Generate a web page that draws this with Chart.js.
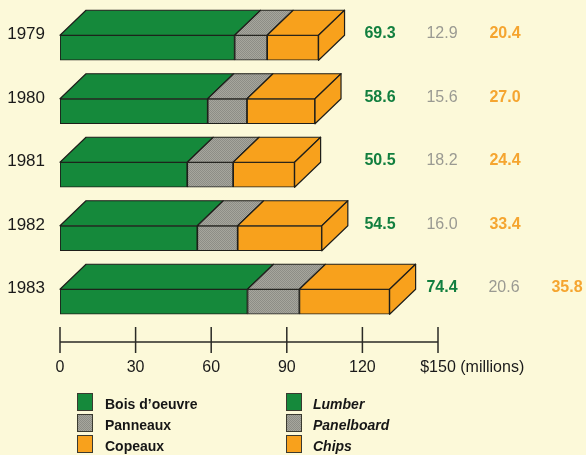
<!DOCTYPE html>
<html>
<head>
<meta charset="utf-8">
<script src="https://cdn.jsdelivr.net/npm/chart.js@4.4.1/dist/chart.umd.min.js"></script>
<style>
  html, body { margin: 0; padding: 0; background: #fcf9d9; }
  #wrap { width: 586px; height: 455px; }
</style>
</head>
<body>
<div id="wrap"><canvas id="chart" width="586" height="455"></canvas></div>
<script>
// Chart data (values in $ millions)
const years = ['1979', '1980', '1981', '1982', '1983'];
const lumber = [69.3, 58.6, 50.5, 54.5, 74.4];
const panelboard = [12.9, 15.6, 18.2, 16.0, 20.6];
const chips = [20.4, 27.0, 24.4, 33.4, 35.8];
const xTicks = [0, 30, 60, 90, 120, 150];
const namesFr = ['Bois d\u2019oeuvre', 'Panneaux', 'Copeaux'];
const namesEn = ['Lumber', 'Panelboard', 'Chips'];

const FONT = "'Liberation Sans', Arial, Helvetica, sans-serif";
const edge = '#1e1e1a';
const green = '#15893b';
const orange = '#f8a11c';

// halftone-ish grey like the print
function greyPattern() {
    const c = document.createElement('canvas');
    c.width = 2; c.height = 2;
    const g = c.getContext('2d');
    g.fillStyle = '#a6a69d'; g.fillRect(0, 0, 2, 2);
    g.fillStyle = '#8d8d86'; g.fillRect(0, 0, 1, 1); g.fillRect(1, 1, 1, 1);
    return g.createPattern(c, 'repeat');
}
const grey = greyPattern();
const fills = [green, grey, orange];
const textColors = ['#127f3f', '#9a9a92', '#f5a530'];

// depth of the 3d boxes
const dx = 26, dy = 25;

// top and side faces of the bars
const box3d = {
    id: 'box3d',
    afterDatasetsDraw(chart) {
        const ctx = chart.ctx;
        const metas = chart.getSortedVisibleDatasetMetas();
        ctx.save();
        ctx.lineWidth = 1.2;
        ctx.strokeStyle = edge;
        ctx.lineJoin = 'round';
        metas.forEach((meta, k) => {
            meta.data.forEach(bar => {
                const p = bar.getProps(['x', 'y', 'base', 'height'], true);
                const top = p.y - p.height / 2, bottom = p.y + p.height / 2;
                const x0 = Math.min(p.base, p.x), x1 = Math.max(p.base, p.x);
                ctx.fillStyle = fills[k];
                ctx.beginPath();
                ctx.moveTo(x0, top);
                ctx.lineTo(x1, top);
                ctx.lineTo(x1 + dx, top - dy);
                ctx.lineTo(x0 + dx, top - dy);
                ctx.closePath();
                ctx.fill();
                ctx.stroke();
                if (k === metas.length - 1) {
                    ctx.beginPath();
                    ctx.moveTo(x1, top);
                    ctx.lineTo(x1 + dx, top - dy);
                    ctx.lineTo(x1 + dx, bottom - dy);
                    ctx.lineTo(x1, bottom);
                    ctx.closePath();
                    ctx.fill();
                    ctx.stroke();
                }
            });
        });
        ctx.restore();
    }
};

// value columns, axis line and the bilingual legend
const extras = {
    id: 'extras',
    afterDraw(chart) {
        const ctx = chart.ctx;
        const xs = chart.scales.x;
        const ys = chart.scales.y;
        const series = [lumber, panelboard, chips];
        ctx.save();

        // value labels to the right of each bar
        const cols = [380, 442, 505];
        ctx.textAlign = 'center';
        ctx.textBaseline = 'middle';
        years.forEach((yr, i) => {
            const total = lumber[i] + panelboard[i] + chips[i];
            const end = xs.getPixelForValue(total) + dx;
            const shift = end + 12 > cols[0] - 16 ? cols[1] - cols[0] : 0;
            const y = ys.getPixelForValue(i) - 12.5 - 1.5;
            series.forEach((s, k) => {
                ctx.font = (k === 1 ? '' : 'bold ') + '16px ' + FONT;
                ctx.fillStyle = textColors[k];
                ctx.fillText(s[i].toFixed(1), cols[k] + shift, y);
            });
        });

        // x axis line with ticks crossing it
        const axisY = 342;
        ctx.strokeStyle = '#2a2a26';
        ctx.lineWidth = 1.5;
        ctx.beginPath();
        ctx.moveTo(xs.getPixelForValue(xTicks[0]), axisY);
        ctx.lineTo(xs.getPixelForValue(xTicks[xTicks.length - 1]), axisY);
        xTicks.forEach(t => {
            const px = xs.getPixelForValue(t);
            ctx.moveTo(px, axisY - 15);
            ctx.lineTo(px, axisY + 11);
        });
        ctx.stroke();

        // unit after the last tick label
        ctx.font = '16px ' + FONT;
        ctx.fillStyle = '#1a1a1a';
        ctx.textAlign = 'left';
        const last = xTicks[xTicks.length - 1];
        const lastPx = xs.getPixelForValue(last);
        const w = ctx.measureText('$' + last).width;
        ctx.fillText(' (millions)', lastPx + w / 2, 368);

        // legend, French then English
        const legendCols = [{ box: 77, text: 105, style: 'bold ', names: namesFr },
                            { box: 286, text: 313, style: 'italic bold ', names: namesEn }];
        legendCols.forEach(col => {
            col.names.forEach((name, k) => {
                const top = 393 + k * 21;
                ctx.fillStyle = fills[k];
                ctx.fillRect(col.box, top, 16, 18);
                ctx.strokeStyle = '#3a3a30';
                ctx.lineWidth = 1;
                ctx.strokeRect(col.box + 0.5, top + 0.5, 15, 17);
                ctx.font = col.style + '14px ' + FONT;
                ctx.fillStyle = '#161616';
                ctx.textBaseline = 'middle';
                ctx.fillText(name, col.text, top + 12);
            });
        });
        ctx.restore();
    }
};

function makeDataset(label, data, k) {
    return {
        label: label,
        data: data,
        backgroundColor: fills[k],
        borderColor: edge,
        borderWidth: 1.2,
        borderSkipped: false,
        barThickness: 25
    };
}

new Chart(document.getElementById('chart'), {
    type: 'bar',
    data: {
        labels: years,
        datasets: [
            makeDataset(namesEn[0], lumber, 0),
            makeDataset(namesEn[1], panelboard, 1),
            makeDataset(namesEn[2], chips, 2)
        ]
    },
    options: {
        indexAxis: 'y',
        responsive: false,
        animation: false,
        layout: { padding: { top: 16, right: 148, bottom: 0, left: 0 } },
        plugins: {
            legend: { display: false },
            tooltip: { enabled: false }
        },
        scales: {
            x: {
                stacked: true,
                min: 0,
                max: 150,
                afterBuildTicks: scale => { scale.ticks = xTicks.map(v => ({ value: v })); },
                afterFit: scale => { scale.height = 121.5; scale.paddingLeft = 0; scale.paddingRight = 0; },
                grid: { display: false, drawTicks: false },
                border: { display: false },
                ticks: {
                    padding: 24.5,
                    maxRotation: 0,
                    color: '#1a1a1a',
                    font: { family: FONT, size: 16 },
                    callback: v => v === 150 ? '$150' : v
                }
            },
            y: {
                stacked: true,
                afterFit: scale => { scale.width = 60; scale.paddingTop = 0; scale.paddingBottom = 0; },
                grid: { display: false, drawTicks: false },
                border: { display: false },
                ticks: {
                    padding: 15,
                    labelOffset: -13,
                    color: '#1a1a1a',
                    font: { family: FONT, size: 17 }
                }
            }
        }
    },
    plugins: [box3d, extras]
});
</script>
</body>
</html>
